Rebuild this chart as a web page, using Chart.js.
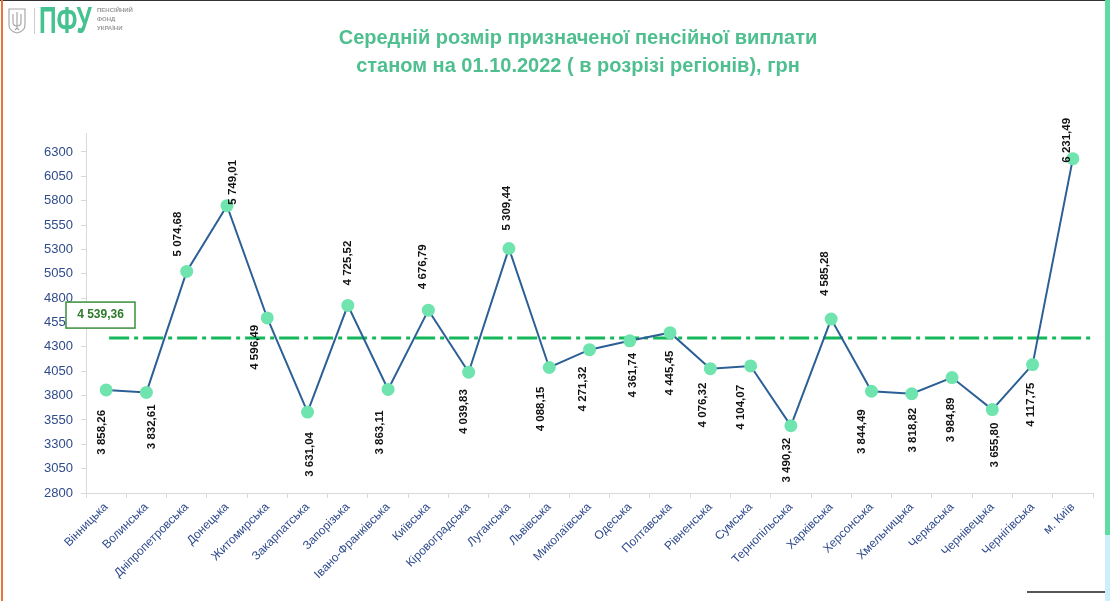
<!DOCTYPE html>
<html lang="uk">
<head>
<meta charset="utf-8">
<title>Середній розмір призначеної пенсійної виплати</title>
<script src="https://cdn.jsdelivr.net/npm/chart.js@4.4.0/dist/chart.umd.min.js"></script>
<style>
  html, body { margin: 0; padding: 0; background: #fff; }
  #page { position: relative; width: 1110px; height: 601px; overflow: hidden; font-family: "Liberation Sans", Arial, sans-serif; }
  #myChart { position: absolute; left: 0; top: 0; }
  .title { position: absolute; left: 300px; top: 23px; width: 556px; text-align: center; color: #4fbf8f; font-weight: bold; font-size: 20px; line-height: 28px; }
  .logo-sign { position: absolute; left: 8px; top: 8px; }
  .logo-sep { position: absolute; left: 34px; top: 8px; width: 1px; height: 26px; background: #cfcfcf; }
  .logo-main { position: absolute; left: 39px; top: 1px; font-weight: bold; font-size: 36px; line-height: 40px; color: #45c28f; transform: scaleX(0.68); transform-origin: left top; }
  .logo-small { position: absolute; left: 97px; top: 6px; font-size: 6px; line-height: 9px; color: #9a9a9a; font-weight: bold; }
  .edge-left { position: absolute; left: 1px; top: 0; width: 2px; height: 601px; background: #e8743b; }
  .edge-top { position: absolute; left: 0; top: 0; width: 1110px; height: 1px; background: #333; }
  .edge-right { position: absolute; left: 1105px; top: 0; width: 5px; height: 535px; background: #5fdba3; }
  .edge-right2 { position: absolute; left: 1105px; top: 535px; width: 5px; height: 66px; background: #cdeefb; }
  .edge-bottom { position: absolute; left: 1027px; top: 591px; width: 78px; height: 2px; background: #555; }
</style>
</head>
<body>
<div id="page">
  <canvas id="myChart" width="1110" height="601"></canvas>

  <!-- логотип ПФУ -->
  <svg class="logo-sign" width="18" height="26" viewBox="0 0 18 26">
    <path d="M1 1 H17 V17 Q17 23 9 25 Q1 23 1 17 Z" fill="none" stroke="#a8a8a8" stroke-width="1.2"/>
    <path d="M9 4 V20 M5 6 V14 Q5 18 9 18 Q13 18 13 14 V6 M9 20 L7 22 M9 20 L11 22" fill="none" stroke="#a8a8a8" stroke-width="1.2"/>
  </svg>
  <div class="logo-sep"></div>
  <div class="logo-main">ПФУ</div>
  <div class="logo-small">ПЕНСІЙНИЙ<br>ФОНД<br>УКРАЇНИ</div>

  <div class="title">Середній розмір призначеної пенсійної виплати<br>станом на 01.10.2022 ( в розрізі регіонів), грн</div>

  <div class="edge-top"></div>
  <div class="edge-left"></div>
  <div class="edge-right"></div>
  <div class="edge-right2"></div>
  <div class="edge-bottom"></div>
</div>

<script>
  // Дані графіка
  const regions = [
    "Вінницька", "Волинська", "Дніпропетровська", "Донецька", "Житомирська",
    "Закарпатська", "Запорізька", "Івано-Франківська", "Київська", "Кіровоградська",
    "Луганська", "Львівська", "Миколаївська", "Одеська", "Полтавська",
    "Рівненська", "Сумська", "Тернопільська", "Харківська", "Херсонська",
    "Хмельницька", "Черкаська", "Чернівецька", "Чернігівська", "м. Київ",
  ];
  const pensionValues = [
    3858.26, 3832.61, 5074.68, 5749.01, 4596.49,
    3631.04, 4725.52, 3863.11, 4676.79, 4039.83,
    5309.44, 4088.15, 4271.32, 4361.74, 4445.45,
    4076.32, 4104.07, 3490.32, 4585.28, 3844.49,
    3818.82, 3984.89, 3655.80, 4117.75, 6231.49,
  ];
  const yTicks = [2800, 3050, 3300, 3550, 3800, 4050, 4300, 4550, 4800, 5050, 5300, 5550, 5800, 6050, 6300];
  const averageLineValue = 4390; // де лінія стоїть на картинці
  const averageLabel = "4 539,36";
  const labelSide = [
    "below", "below", "above", "above", "below",
    "below", "above", "below", "above", "below",
    "above", "below", "below", "below", "below",
    "below", "below", "below", "above", "below",
    "below", "below", "below", "below", "above",
  ];

  // зсуви підписів (пікселі)
  const labelDx = [-4, 5, -9, 6, -12, 2, 0, -8, -6, -5, -2, -8, -7, 3, 0, -8, -10, -4, -6, -10, 1, -1, 3, -2, -6];
  const labelGap = [20, 12, 15, 1, 7, 20, 20, 21, 21, 17, 18, 19, 17, 12, 18, 14, 19, 12, 23, 18, 14, 20, 13, 18, -4];

  function formatUa(v) {
    const parts = v.toFixed(2).split(".");
    const intPart = parts[0].replace(/\B(?=(\d{3})+(?!\d))/g, " ");
    return intPart + "," + parts[1];
  }

  // підписи значень, повернуті вертикально
  const valueLabels = {
    id: "valueLabels",
    afterDatasetsDraw(chart) {
      const ctx = chart.ctx;
      const meta = chart.getDatasetMeta(0);
      ctx.save();
      ctx.font = "bold 11.5px 'Liberation Sans', Arial, sans-serif";
      ctx.fillStyle = "#111";
      ctx.textBaseline = "middle";
      meta.data.forEach((pt, i) => {
        const above = labelSide[i] === "above";
        ctx.save();
        ctx.translate(pt.x + labelDx[i], above ? pt.y - labelGap[i] : pt.y + labelGap[i]);
        ctx.rotate(-Math.PI / 2);
        ctx.textAlign = above ? "left" : "right";
        ctx.fillText(formatUa(pensionValues[i]), 0, 0);
        ctx.restore();
      });
      ctx.restore();
    },
  };

  // пунктирна лінія середнього + рамка з підписом
  const averageLine = {
    id: "averageLine",
    beforeDatasetsDraw(chart) {
      const ctx = chart.ctx;
      const y = chart.scales.y.getPixelForValue(averageLineValue);
      const x0 = chart.scales.x.getPixelForValue(0) + 3;
      ctx.save();
      ctx.strokeStyle = "#14b85a";
      ctx.lineWidth = 3;
      ctx.setLineDash([20, 5, 4, 5]);
      ctx.beginPath();
      ctx.moveTo(x0, y);
      ctx.lineTo(chart.chartArea.right, y);
      ctx.stroke();
      ctx.restore();
    },
    afterDraw(chart) {
      const ctx = chart.ctx;
      const y = chart.scales.y.getPixelForValue(averageLineValue);
      const left = chart.chartArea.left - 20;
      const top = y - 36;
      ctx.save();
      ctx.fillStyle = "#fff";
      ctx.fillRect(left, top, 69, 26);
      ctx.strokeStyle = "#3a8f3a";
      ctx.lineWidth = 1.5;
      ctx.strokeRect(left, top, 69, 26);
      ctx.fillStyle = "#2b7a2b";
      ctx.font = "bold 12px 'Liberation Sans', Arial, sans-serif";
      ctx.textAlign = "center";
      ctx.textBaseline = "middle";
      ctx.fillText(averageLabel, left + 34.5, top + 13);
      ctx.restore();
    },
  };

  Chart.defaults.font.family = "'Liberation Sans', Arial, sans-serif";

  const ctx = document.getElementById("myChart").getContext("2d");

  new Chart(ctx, {
    type: "line",
    data: {
      labels: regions,
      datasets: [
        {
          data: pensionValues,
          borderColor: "#2b5f95",
          borderWidth: 2,
          tension: 0,
          pointRadius: 6.5,
          pointHoverRadius: 6.5,
          pointBackgroundColor: "#70e4ae",
          pointBorderWidth: 0,
        },
      ],
    },
    options: {
      responsive: false,
      animation: false,
      layout: { padding: { left: 26, right: 17, top: 133, bottom: 18 } },
      plugins: {
        legend: { display: false },
        tooltip: { enabled: false },
      },
      scales: {
        x: {
          offset: true,
          border: { display: true, color: "#d9d9d9", width: 1 },
          grid: { drawOnChartArea: false, drawTicks: true, tickLength: 5, color: "#d9d9d9", offset: true },
          ticks: {
            minRotation: 45,
            maxRotation: 45,
            autoSkip: false,
            padding: 2,
            color: "#2f4b8c",
            font: { size: 12 },
          },
          afterFit(scale) {
            scale.height = 90;
          },
        },
        y: {
          min: 2800,
          max: 6495,
          border: { display: true, color: "#d9d9d9", width: 1 },
          grid: { drawOnChartArea: false, drawTicks: true, tickLength: 5, color: "#d9d9d9" },
          ticks: {
            padding: 8,
            color: "#2f4b8c",
            font: { size: 13 },
            callback: (v) => String(v),
          },
          afterBuildTicks(scale) {
            scale.ticks = yTicks.map((v) => ({ value: v }));
          },
          afterFit(scale) {
            scale.width = 60;
          },
        },
      },
    },
    plugins: [averageLine, valueLabels],
  });
</script>
</body>
</html>
